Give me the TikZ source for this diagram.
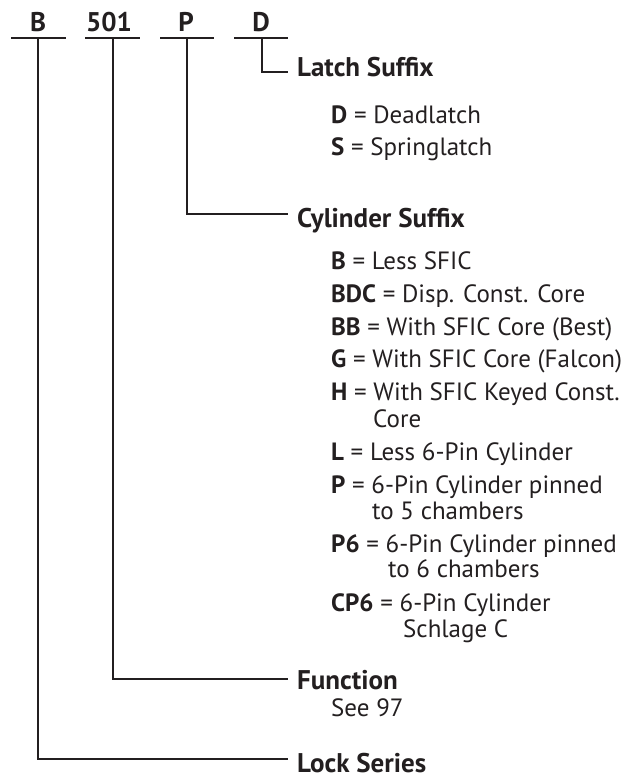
\documentclass[tikz,border=0pt]{standalone}
\usepackage{fontspec}
\setmainfont{PT Sans}
\definecolor{ink}{HTML}{231F20}
\begin{document}
\begin{tikzpicture}[x=1pt,y=-1pt,
  wire/.style={line width=2.8pt, draw=ink},
  toplabel/.style={anchor=base, inner sep=0pt, text=ink, font=\fontsize{27}{30}\selectfont\bfseries},
  head/.style={anchor=base west, inner sep=0pt, text=ink, font=\fontsize{27}{30}\selectfont\bfseries},
  item/.style={anchor=base west, inner sep=0pt, text=ink, font=\fontsize{25}{28}\selectfont}]
\useasboundingbox (0,0) rectangle (621,776);
% top labels
\node[toplabel] (lB) at (38,32) {B};
\node[toplabel] (l501) at (109,32) {501};
\node[toplabel] (lP) at (186,32) {P};
\node[toplabel] (lD) at (261,32) {D};
% bar coordinates
\coordinate (b1a) at (11,38); \coordinate (b1b) at (66,38); \coordinate (v1) at (38,38);
\coordinate (b2a) at (85,38); \coordinate (b2b) at (140,38); \coordinate (v2) at (113,38);
\coordinate (b3a) at (160,38); \coordinate (b3b) at (214,38); \coordinate (v3) at (187,38);
\coordinate (b4a) at (234,38); \coordinate (b4b) at (288,38); \coordinate (v4) at (262,38);
\draw[wire] (b1a) -- (b1b);
\draw[wire] (b2a) -- (b2b);
\draw[wire] (b3a) -- (b3b);
\draw[wire] (b4a) -- (b4b);
% elbow ends
\coordinate (eD) at (288,72);
\coordinate (eP) at (288,214);
\coordinate (e501) at (288,679);
\coordinate (eB) at (288,759);
\draw[wire] (v4) |- (eD);
\draw[wire] (v3) |- (eP);
\draw[wire] (v2) |- (e501);
\draw[wire] (v1) |- (eB);
% headings
\node[head] (hLatch) at (297,77) {Latch Suffix};
\node[head] (hCyl) at (297,227) {Cylinder Suffix};
\node[head] (hFun) at (297,689) {Function};
\node[head] (hLock) at (297,772) {Lock Series};
% latch items
\node[item] (iD) at (331,123) {\textbf{D} = Deadlatch};
\node[item] (iS) at (331,155) {\textbf{S} = Springlatch};
% cylinder items
\node[item] (iB) at (331,269) {\textbf{B} = Less SFIC};
\node[item] (iBDC) at (331,302) {\textbf{BDC} = Disp. Const. Core};
\node[item] (iBB) at (331,335) {\textbf{BB} = With SFIC Core (Best)};
\node[item] (iG) at (331,367) {\textbf{G} = With SFIC Core (Falcon)};
\node[item] (iH) at (331,400) {\textbf{H} = With SFIC Keyed Const.};
\node[item] (iH2) at (373,427) {Core};
\node[item] (iL) at (331,460) {\textbf{L} = Less 6-Pin Cylinder};
\node[item] (iP) at (331,493) {\textbf{P} = 6-Pin Cylinder pinned};
\node[item] (iP2) at (372,519) {to 5 chambers};
\node[item] (iP6) at (331,552) {\textbf{P6} = 6-Pin Cylinder pinned};
\node[item] (iP62) at (388,577) {to 6 chambers};
\node[item] (iCP6) at (331,611) {\textbf{CP6} = 6-Pin Cylinder};
\node[item] (iCP62) at (403,637) {Schlage C};
% function
\node[item] (iSee) at (331,716) {See 97};
\end{tikzpicture}
\end{document}
